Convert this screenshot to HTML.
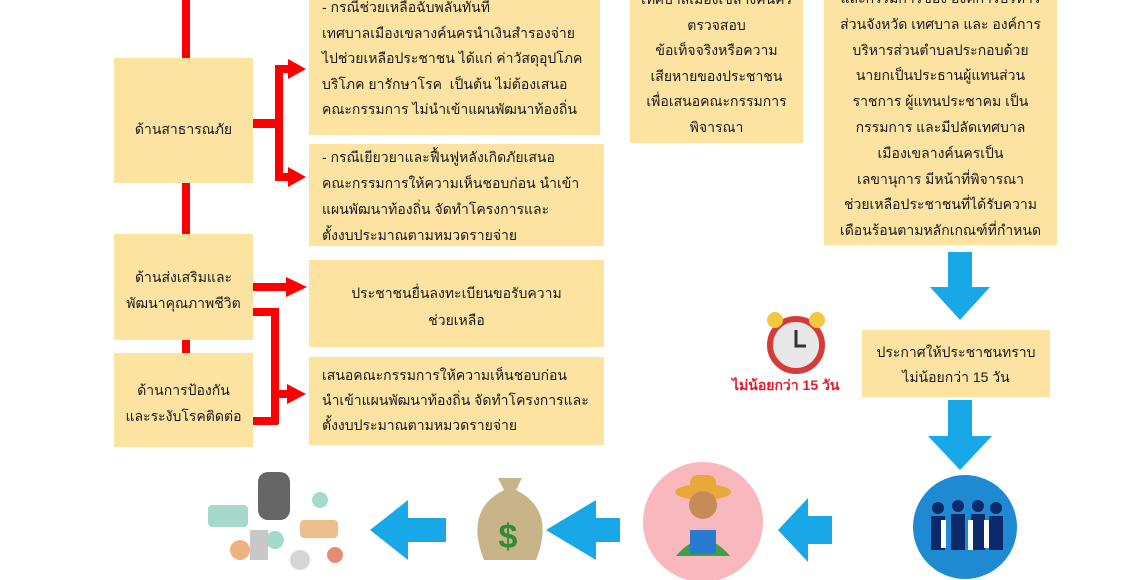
<!DOCTYPE html>
<html><head><meta charset="utf-8"><style>
body{margin:0;width:1130px;height:580px;overflow:hidden;background:#fff;position:relative;font-family:"Liberation Sans","Noto Sans CJK SC","WenQuanYi Zen Hei",sans-serif;color:#1a1a1a;}
.b{position:absolute;background:#fce3a2;overflow:hidden;font-size:14px;}
.t{position:absolute;left:0;right:0;}
.c{text-align:center}
.l{text-align:left;padding-left:13px}
.r{position:absolute;background:#f00;}
</style></head><body>
<div class="r" style="left:182px;top:0;width:8px;height:60px"></div>
<div class="r" style="left:182px;top:183px;width:8px;height:52px"></div>
<div class="r" style="left:182px;top:340px;width:8px;height:14px"></div>
<div class="r" style="left:253px;top:119px;width:24px;height:9px"></div>
<div class="r" style="left:275px;top:65px;width:8px;height:116px"></div>
<div class="r" style="left:275px;top:65px;width:14px;height:8px"></div>
<div class="r" style="left:275px;top:173px;width:14px;height:8px"></div>
<div class="r" style="left:253px;top:283px;width:35px;height:8px"></div>
<div class="r" style="left:253px;top:308px;width:25px;height:8px"></div>
<div class="r" style="left:271px;top:308px;width:8px;height:116px"></div>
<div class="r" style="left:253px;top:417px;width:25px;height:8px"></div>
<div class="r" style="left:271px;top:390px;width:18px;height:8px"></div>
<svg style="position:absolute;left:0;top:0" width="1130" height="580">
<g fill="#f00">
<polygon points="288,59 306,69 288,79"/>
<polygon points="288,167 306,177 288,187"/>
<polygon points="286,277 307,287 286,297"/>
<polygon points="287,384 306,394 287,404"/>
</g>
<g fill="#18a8e8">
<polygon points="948,252 972,252 972,287 990,287 960,320 930,287 948,287"/>
<polygon points="948,400 972,400 972,436 992,436 960,470 928,436 948,436"/>
<polygon points="832,516 832,544 808,544 808,562 778,530 808,498 808,516"/>
<polygon points="620,518 620,542 596,542 596,560 546,530 596,500 596,518"/>
<polygon points="446,518 446,542 408,542 408,560 370,530 408,500 408,518"/>
</g>
<circle cx="965" cy="527" r="52" fill="#1e8ad2"/>
<g fill="#0c2a6a"><circle cx="938" cy="508" r="6"/><circle cx="958" cy="506" r="6"/><circle cx="978" cy="506" r="6"/><circle cx="996" cy="508" r="6"/>
<rect x="931" y="516" width="14" height="34"/><rect x="951" y="514" width="14" height="36"/><rect x="971" y="514" width="14" height="36"/><rect x="989" y="516" width="14" height="34"/></g>
<g fill="#fff"><rect x="941" y="520" width="5" height="28"/><rect x="968" y="520" width="5" height="30"/><rect x="984" y="520" width="5" height="28"/></g>
<circle cx="703" cy="522" r="60" fill="#f9b8be"/>
<ellipse cx="703" cy="492" rx="28" ry="8" fill="#e8a83a"/><rect x="690" y="475" width="26" height="18" rx="8" fill="#e8a83a"/>
<circle cx="703" cy="505" r="14" fill="#c98a5a"/>
<path d="M676,556 q27,-32 54,0 z" fill="#3aa04a"/><rect x="690" y="530" width="26" height="24" fill="#2a7ad0"/>
<path d="M484,560 q-20,-50 20,-70 l-6,-12 h24 l-6,12 q40,20 20,70 z" fill="#c9b48a"/>
<text x="508" y="548" font-size="34" font-weight="bold" fill="#2f8a3a" text-anchor="middle" font-family="Liberation Sans,sans-serif">$</text>
<rect x="258" y="472" width="32" height="48" rx="10" fill="#666"/>
<g fill="#8fd0c0" opacity=".8"><rect x="208" y="505" width="40" height="22" rx="4"/><rect x="300" y="520" width="38" height="18" rx="4" fill="#e8b070"/><circle cx="240" cy="550" r="10" fill="#e8a060"/><circle cx="275" cy="540" r="9"/><circle cx="320" cy="500" r="8"/><circle cx="300" cy="560" r="10" fill="#ccc"/><rect x="250" y="530" width="18" height="30" fill="#bbb"/><circle cx="335" cy="555" r="8" fill="#e07050"/></g>
<circle cx="796" cy="345" r="26" fill="#e8e8e8" stroke="#d63a3a" stroke-width="6"/>
<circle cx="775" cy="320" r="8" fill="#f2c840"/><circle cx="817" cy="320" r="8" fill="#f2c840"/>
<path d="M796,330 v16 h10" stroke="#333" stroke-width="3" fill="none"/>
</svg>
<div class="b" style="left:114px;top:58px;width:139px;height:125px"><div class="t c" style="top:61px">ด้านสาธารณภัย</div></div>
<div class="b" style="left:114px;top:234px;width:139px;height:106px"><div class="t c" style="top:30px;line-height:26px">ด้านส่งเสริมและ<br>พัฒนาคุณภาพชีวิต</div></div>
<div class="b" style="left:114px;top:353px;width:139px;height:94px"><div class="t c" style="top:24px;line-height:26px">ด้านการป้องกัน<br>และระงับโรคติดต่อ</div></div>
<div class="b" style="left:309px;top:0;width:291px;height:135px"><div class="t l" style="top:-5px;line-height:25.5px">- กรณีช่วยเหลือฉับพลันทันที<br>เทศบาลเมืองเขลางค์นครนำเงินสำรองจ่าย<br>ไปช่วยเหลือประชาชน ได้แก่ ค่าวัสดุอุปโภค<br>บริโภค ยารักษาโรค &nbsp;เป็นต้น ไม่ต้องเสนอ<br>คณะกรรมการ ไม่นำเข้าแผนพัฒนาท้องถิ่น</div></div>
<div class="b" style="left:309px;top:144px;width:295px;height:102px"><div class="t l" style="top:0;line-height:26px">- กรณีเยียวยาและฟื้นฟูหลังเกิดภัยเสนอ<br>คณะกรรมการให้ความเห็นชอบก่อน นำเข้า<br>แผนพัฒนาท้องถิ่น จัดทำโครงการและ<br>ตั้งงบประมาณตามหมวดรายจ่าย</div></div>
<div class="b" style="left:309px;top:260px;width:295px;height:87px"><div class="t c" style="top:20px;line-height:27px">ประชาชนยื่นลงทะเบียนขอรับความ<br>ช่วยเหลือ</div></div>
<div class="b" style="left:309px;top:357px;width:295px;height:88px"><div class="t l" style="top:6px;line-height:25px">เสนอคณะกรรมการให้ความเห็นชอบก่อน<br>นำเข้าแผนพัฒนาท้องถิ่น จัดทำโครงการและ<br>ตั้งงบประมาณตามหมวดรายจ่าย</div></div>
<div class="b" style="left:630px;top:0;width:173px;height:143px"><div class="t c" style="top:-13px;line-height:25.5px">เทศบาลเมืองเขลางค์นคร<br>ตรวจสอบ<br>ข้อเท็จจริงหรือความ<br>เสียหายของประชาชน<br>เพื่อเสนอคณะกรรมการ<br>พิจารณา</div></div>
<div class="b" style="left:824px;top:0;width:233px;height:245px"><div class="t c" style="top:-14px;line-height:25.8px">และกรรมการของ องค์การบริหาร<br>ส่วนจังหวัด เทศบาล และ องค์การ<br>บริหารส่วนตำบลประกอบด้วย<br>นายกเป็นประธานผู้แทนส่วน<br>ราชการ ผู้แทนประชาคม เป็น<br>กรรมการ และมีปลัดเทศบาล<br>เมืองเขลางค์นครเป็น<br>เลขานุการ มีหน้าที่พิจารณา<br>ช่วยเหลือประชาชนที่ได้รับความ<br>เดือนร้อนตามหลักเกณฑ์ที่กำหนด</div></div>
<div class="b" style="left:862px;top:330px;width:188px;height:67px"><div class="t c" style="top:10px;line-height:25px">ประกาศให้ประชาชนทราบ<br>ไม่น้อยกว่า 15 วัน</div></div>
<div style="position:absolute;left:732px;top:375px;font-size:14px;font-weight:bold;color:#e8192c">ไม่น้อยกว่า 15 วัน</div>
</body></html>
